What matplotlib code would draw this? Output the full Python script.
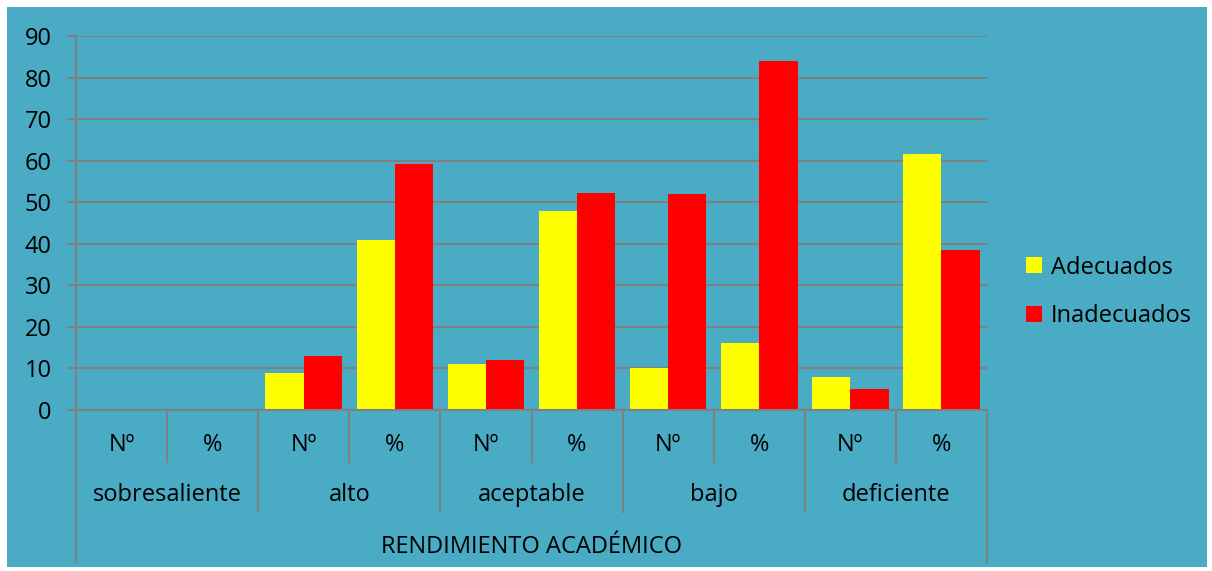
import matplotlib
matplotlib.use("Agg")
import matplotlib.pyplot as plt
import matplotlib.transforms as mtransforms
from matplotlib.patches import Rectangle
import numpy as np

plt.rcParams["font.family"] = ["Open Sans", "DejaVu Sans"]

# ---- data ----
groups = ["sobresaliente", "alto", "aceptable", "bajo", "deficiente"]
sub_labels = ["Nº", "%"]
adecuados = [0, 0, 9, 40.9, 11, 47.8, 10, 16.1, 8, 61.5]
inadecuados = [0, 0, 13, 59.1, 12, 52.2, 52, 83.9, 5, 38.5]
axis_title = "RENDIMIENTO ACADÉMICO"

BG = "#4AABC5"
GRID = "#808080"
FS = 17

fig = plt.figure(figsize=(12.12, 5.71), dpi=100, facecolor="white")
W, H = 1212, 571
fig.patches.append(Rectangle((7 / W, 4 / H), 1200 / W, 560 / H,
                             transform=fig.transFigure, facecolor=BG,
                             edgecolor="none", zorder=-10))

ax = fig.add_axes([76 / W, 1 - 410 / H, 911 / W, 374 / H])
ax.set_facecolor("none")

x = np.arange(len(adecuados))
bw = 0.42
b1 = ax.bar(x - bw / 2, adecuados, bw, color="#FFFF00", label="Adecuados", zorder=3)
b2 = ax.bar(x + bw / 2, inadecuados, bw, color="#FF0000", label="Inadecuados", zorder=3)

ax.set_xlim(-0.5, len(x) - 0.5)
ax.set_ylim(0, 90)
ax.set_yticks(range(0, 91, 10))
ax.yaxis.grid(True, color=GRID, linewidth=1.5, zorder=1)
ax.set_axisbelow(True)
ax.tick_params(axis="y", length=6.5, width=1.5, color=GRID, labelsize=FS, pad=11)
ax.set_xticks([])
for s in ["top", "right"]:
    ax.spines[s].set_visible(False)
for s in ["left", "bottom"]:
    ax.spines[s].set_color(GRID)
    ax.spines[s].set_linewidth(1.5)
    ax.spines[s].set_zorder(4)

# multi-level category axis
tr = mtransforms.blended_transform_factory(ax.transData, ax.transAxes)
px = 1 / 374
for i in range(len(x) + 1):
    xb = i - 0.5
    if i in (0, len(x)):
        y_end = -(562 - 410) * px
    elif i % 2 == 0:
        y_end = -(512 - 410) * px
    else:
        y_end = -(462 - 410) * px
    ax.plot([xb, xb], [0, y_end], color=GRID, linewidth=1.5,
            transform=tr, clip_on=False)

for i in range(len(x)):
    ax.text(i, -(445 - 410) * px, sub_labels[i % 2], transform=tr,
            ha="center", va="center", fontsize=FS)
for g, name in enumerate(groups):
    ax.text(2 * g + 0.5, -(495 - 410) * px, name, transform=tr,
            ha="center", va="center", fontsize=FS)
ax.text(0.5, -(547 - 410) * px, axis_title, transform=ax.transAxes,
        ha="center", va="center", fontsize=FS)

fig.legend(handles=[b1, b2], loc="center left",
           bbox_to_anchor=(1005 / W, 1 - 292 / H), frameon=False,
           fontsize=FS, handlelength=0.65, handleheight=0.65,
           handletextpad=0.4, labelspacing=1.05)

fig.savefig("out.png", dpi=100, facecolor="white")
